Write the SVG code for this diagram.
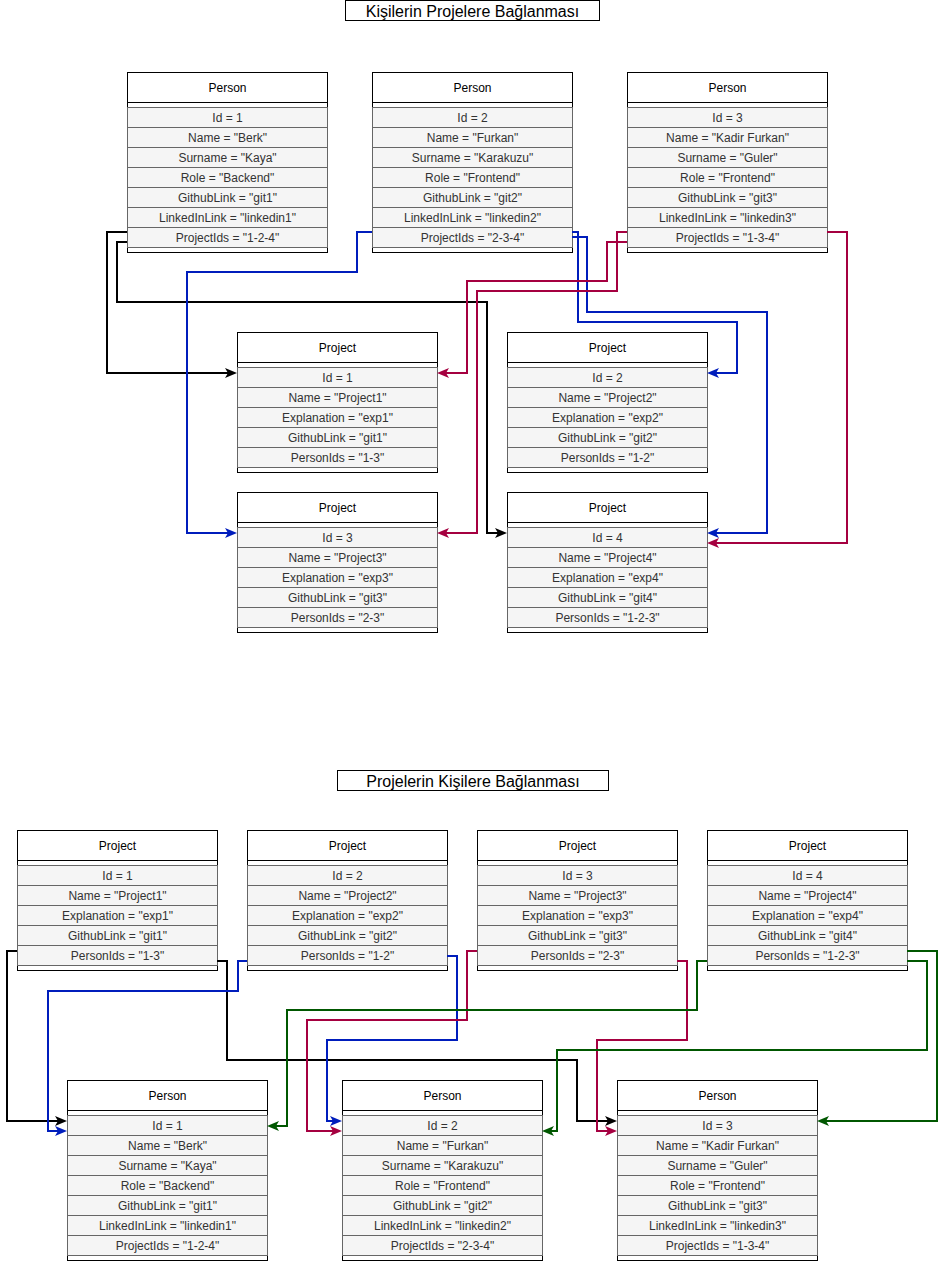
<svg xmlns="http://www.w3.org/2000/svg" xmlns:xlink="http://www.w3.org/1999/xlink" width="947" height="1261" viewBox="0 0 947 1261">
<style>
.box{fill:#ffffff;stroke:#000000;stroke-width:1}
.sep{stroke:#000000;stroke-width:1}
.row{fill:#f5f5f5;stroke:#666666;stroke-width:1}
.hdr{font-family:"Liberation Sans",Arial,Helvetica,sans-serif;font-size:12px;fill:#000000;text-anchor:middle;dominant-baseline:central}
.fld{font-family:"Liberation Sans",Arial,Helvetica,sans-serif;font-size:12px;fill:#333333;text-anchor:middle;dominant-baseline:central}
.ttl{font-family:"Liberation Sans",Arial,Helvetica,sans-serif;font-size:16px;fill:#000000;text-anchor:middle;dominant-baseline:central}
.c{fill:none;stroke-width:2;stroke-linejoin:miter}
.k{stroke:#000000;marker-end:url(#ah-k)}
.b{stroke:#001DBC;marker-end:url(#ah-b)}
.r{stroke:#A50040;marker-end:url(#ah-r)}
.g{stroke:#005700;marker-end:url(#ah-g)}
</style>
<defs>
<marker id="ah-k" viewBox="0 0 12 10" refX="8" refY="5" markerWidth="12" markerHeight="10" markerUnits="userSpaceOnUse" orient="auto"><path d="M0,0 L12,5 L0,10 L3,5 Z" fill="#000000"/></marker>
<marker id="ah-b" viewBox="0 0 12 10" refX="8" refY="5" markerWidth="12" markerHeight="10" markerUnits="userSpaceOnUse" orient="auto"><path d="M0,0 L12,5 L0,10 L3,5 Z" fill="#001DBC"/></marker>
<marker id="ah-r" viewBox="0 0 12 10" refX="8" refY="5" markerWidth="12" markerHeight="10" markerUnits="userSpaceOnUse" orient="auto"><path d="M0,0 L12,5 L0,10 L3,5 Z" fill="#A50040"/></marker>
<marker id="ah-g" viewBox="0 0 12 10" refX="8" refY="5" markerWidth="12" markerHeight="10" markerUnits="userSpaceOnUse" orient="auto"><path d="M0,0 L12,5 L0,10 L3,5 Z" fill="#005700"/></marker>
<g id="personFrame">
<rect class="box" x="0.5" y="0.5" width="200" height="180"/>
<line class="sep" x1="0.5" y1="30.5" x2="200.5" y2="30.5"/>
<rect class="row" x="0.5" y="35.5" width="200" height="20"/>
<rect class="row" x="0.5" y="55.5" width="200" height="20"/>
<rect class="row" x="0.5" y="75.5" width="200" height="20"/>
<rect class="row" x="0.5" y="95.5" width="200" height="20"/>
<rect class="row" x="0.5" y="115.5" width="200" height="20"/>
<rect class="row" x="0.5" y="135.5" width="200" height="20"/>
<rect class="row" x="0.5" y="155.5" width="200" height="20"/>
</g>
<g id="projectFrame">
<rect class="box" x="0.5" y="0.5" width="200" height="140"/>
<line class="sep" x1="0.5" y1="30.5" x2="200.5" y2="30.5"/>
<rect class="row" x="0.5" y="35.5" width="200" height="20"/>
<rect class="row" x="0.5" y="55.5" width="200" height="20"/>
<rect class="row" x="0.5" y="75.5" width="200" height="20"/>
<rect class="row" x="0.5" y="95.5" width="200" height="20"/>
<rect class="row" x="0.5" y="115.5" width="200" height="20"/>
</g>
</defs>
<rect x="0" y="0" width="947" height="1261" fill="#ffffff"/>

<g id="title-top">
<rect class="box" x="345.5" y="0.5" width="254" height="20"/>
<text class="ttl" x="472.5" y="11.5">Kişilerin Projelere Bağlanması</text>
</g>

<g id="top-person-1">
<use xlink:href="#personFrame" href="#personFrame" x="127" y="72"/>
<text class="hdr" x="227.5" y="87.5">Person</text>
<text class="fld" x="227.5" y="117.5">Id = 1</text>
<text class="fld" x="227.5" y="137.5">Name = "Berk"</text>
<text class="fld" x="227.5" y="157.5">Surname = "Kaya"</text>
<text class="fld" x="227.5" y="177.5">Role = "Backend"</text>
<text class="fld" x="227.5" y="197.5">GithubLink = "git1"</text>
<text class="fld" x="227.5" y="217.5">LinkedInLink = "linkedin1"</text>
<text class="fld" x="227.5" y="237.5">ProjectIds = "1-2-4"</text>
</g>
<g id="top-person-2">
<use xlink:href="#personFrame" href="#personFrame" x="372" y="72"/>
<text class="hdr" x="472.5" y="87.5">Person</text>
<text class="fld" x="472.5" y="117.5">Id = 2</text>
<text class="fld" x="472.5" y="137.5">Name = "Furkan"</text>
<text class="fld" x="472.5" y="157.5">Surname = "Karakuzu"</text>
<text class="fld" x="472.5" y="177.5">Role = "Frontend"</text>
<text class="fld" x="472.5" y="197.5">GithubLink = "git2"</text>
<text class="fld" x="472.5" y="217.5">LinkedInLink = "linkedin2"</text>
<text class="fld" x="472.5" y="237.5">ProjectIds = "2-3-4"</text>
</g>
<g id="top-person-3">
<use xlink:href="#personFrame" href="#personFrame" x="627" y="72"/>
<text class="hdr" x="727.5" y="87.5">Person</text>
<text class="fld" x="727.5" y="117.5">Id = 3</text>
<text class="fld" x="727.5" y="137.5">Name = "Kadir Furkan"</text>
<text class="fld" x="727.5" y="157.5">Surname = "Guler"</text>
<text class="fld" x="727.5" y="177.5">Role = "Frontend"</text>
<text class="fld" x="727.5" y="197.5">GithubLink = "git3"</text>
<text class="fld" x="727.5" y="217.5">LinkedInLink = "linkedin3"</text>
<text class="fld" x="727.5" y="237.5">ProjectIds = "1-3-4"</text>
</g>

<g id="top-project-1">
<use xlink:href="#projectFrame" href="#projectFrame" x="237" y="332"/>
<text class="hdr" x="337.5" y="347.5">Project</text>
<text class="fld" x="337.5" y="377.5">Id = 1</text>
<text class="fld" x="337.5" y="397.5">Name = "Project1"</text>
<text class="fld" x="337.5" y="417.5">Explanation = "exp1"</text>
<text class="fld" x="337.5" y="437.5">GithubLink = "git1"</text>
<text class="fld" x="337.5" y="457.5">PersonIds = "1-3"</text>
</g>
<g id="top-project-2">
<use xlink:href="#projectFrame" href="#projectFrame" x="507" y="332"/>
<text class="hdr" x="607.5" y="347.5">Project</text>
<text class="fld" x="607.5" y="377.5">Id = 2</text>
<text class="fld" x="607.5" y="397.5">Name = "Project2"</text>
<text class="fld" x="607.5" y="417.5">Explanation = "exp2"</text>
<text class="fld" x="607.5" y="437.5">GithubLink = "git2"</text>
<text class="fld" x="607.5" y="457.5">PersonIds = "1-2"</text>
</g>
<g id="top-project-3">
<use xlink:href="#projectFrame" href="#projectFrame" x="237" y="492"/>
<text class="hdr" x="337.5" y="507.5">Project</text>
<text class="fld" x="337.5" y="537.5">Id = 3</text>
<text class="fld" x="337.5" y="557.5">Name = "Project3"</text>
<text class="fld" x="337.5" y="577.5">Explanation = "exp3"</text>
<text class="fld" x="337.5" y="597.5">GithubLink = "git3"</text>
<text class="fld" x="337.5" y="617.5">PersonIds = "2-3"</text>
</g>
<g id="top-project-4">
<use xlink:href="#projectFrame" href="#projectFrame" x="507" y="492"/>
<text class="hdr" x="607.5" y="507.5">Project</text>
<text class="fld" x="607.5" y="537.5">Id = 4</text>
<text class="fld" x="607.5" y="557.5">Name = "Project4"</text>
<text class="fld" x="607.5" y="577.5">Explanation = "exp4"</text>
<text class="fld" x="607.5" y="597.5">GithubLink = "git4"</text>
<text class="fld" x="607.5" y="617.5">PersonIds = "1-2-3"</text>
</g>

<g id="title-bottom">
<rect class="box" x="337.5" y="770.5" width="271" height="20"/>
<text class="ttl" x="473" y="781">Projelerin Kişilere Bağlanması</text>
</g>

<g id="bottom-project-1">
<use xlink:href="#projectFrame" href="#projectFrame" x="17" y="830"/>
<text class="hdr" x="117.5" y="845.5">Project</text>
<text class="fld" x="117.5" y="875.5">Id = 1</text>
<text class="fld" x="117.5" y="895.5">Name = "Project1"</text>
<text class="fld" x="117.5" y="915.5">Explanation = "exp1"</text>
<text class="fld" x="117.5" y="935.5">GithubLink = "git1"</text>
<text class="fld" x="117.5" y="955.5">PersonIds = "1-3"</text>
</g>
<g id="bottom-project-2">
<use xlink:href="#projectFrame" href="#projectFrame" x="247" y="830"/>
<text class="hdr" x="347.5" y="845.5">Project</text>
<text class="fld" x="347.5" y="875.5">Id = 2</text>
<text class="fld" x="347.5" y="895.5">Name = "Project2"</text>
<text class="fld" x="347.5" y="915.5">Explanation = "exp2"</text>
<text class="fld" x="347.5" y="935.5">GithubLink = "git2"</text>
<text class="fld" x="347.5" y="955.5">PersonIds = "1-2"</text>
</g>
<g id="bottom-project-3">
<use xlink:href="#projectFrame" href="#projectFrame" x="477" y="830"/>
<text class="hdr" x="577.5" y="845.5">Project</text>
<text class="fld" x="577.5" y="875.5">Id = 3</text>
<text class="fld" x="577.5" y="895.5">Name = "Project3"</text>
<text class="fld" x="577.5" y="915.5">Explanation = "exp3"</text>
<text class="fld" x="577.5" y="935.5">GithubLink = "git3"</text>
<text class="fld" x="577.5" y="955.5">PersonIds = "2-3"</text>
</g>
<g id="bottom-project-4">
<use xlink:href="#projectFrame" href="#projectFrame" x="707" y="830"/>
<text class="hdr" x="807.5" y="845.5">Project</text>
<text class="fld" x="807.5" y="875.5">Id = 4</text>
<text class="fld" x="807.5" y="895.5">Name = "Project4"</text>
<text class="fld" x="807.5" y="915.5">Explanation = "exp4"</text>
<text class="fld" x="807.5" y="935.5">GithubLink = "git4"</text>
<text class="fld" x="807.5" y="955.5">PersonIds = "1-2-3"</text>
</g>

<g id="bottom-person-1">
<use xlink:href="#personFrame" href="#personFrame" x="67" y="1080"/>
<text class="hdr" x="167.5" y="1095.5">Person</text>
<text class="fld" x="167.5" y="1125.5">Id = 1</text>
<text class="fld" x="167.5" y="1145.5">Name = "Berk"</text>
<text class="fld" x="167.5" y="1165.5">Surname = "Kaya"</text>
<text class="fld" x="167.5" y="1185.5">Role = "Backend"</text>
<text class="fld" x="167.5" y="1205.5">GithubLink = "git1"</text>
<text class="fld" x="167.5" y="1225.5">LinkedInLink = "linkedin1"</text>
<text class="fld" x="167.5" y="1245.5">ProjectIds = "1-2-4"</text>
</g>
<g id="bottom-person-2">
<use xlink:href="#personFrame" href="#personFrame" x="342" y="1080"/>
<text class="hdr" x="442.5" y="1095.5">Person</text>
<text class="fld" x="442.5" y="1125.5">Id = 2</text>
<text class="fld" x="442.5" y="1145.5">Name = "Furkan"</text>
<text class="fld" x="442.5" y="1165.5">Surname = "Karakuzu"</text>
<text class="fld" x="442.5" y="1185.5">Role = "Frontend"</text>
<text class="fld" x="442.5" y="1205.5">GithubLink = "git2"</text>
<text class="fld" x="442.5" y="1225.5">LinkedInLink = "linkedin2"</text>
<text class="fld" x="442.5" y="1245.5">ProjectIds = "2-3-4"</text>
</g>
<g id="bottom-person-3">
<use xlink:href="#personFrame" href="#personFrame" x="617" y="1080"/>
<text class="hdr" x="717.5" y="1095.5">Person</text>
<text class="fld" x="717.5" y="1125.5">Id = 3</text>
<text class="fld" x="717.5" y="1145.5">Name = "Kadir Furkan"</text>
<text class="fld" x="717.5" y="1165.5">Surname = "Guler"</text>
<text class="fld" x="717.5" y="1185.5">Role = "Frontend"</text>
<text class="fld" x="717.5" y="1205.5">GithubLink = "git3"</text>
<text class="fld" x="717.5" y="1225.5">LinkedInLink = "linkedin3"</text>
<text class="fld" x="717.5" y="1245.5">ProjectIds = "1-3-4"</text>
</g>

<g id="connectors">
<path class="c k" d="M127,232 H107 V373 H233"/>
<path class="c k" d="M127,242 H117 V302 H487 V533 H503"/>
<path class="c b" d="M372,232 H357 V272 H187 V533 H233"/>
<path class="c b" d="M572,232 H578 V322 H737 V373 H711"/>
<path class="c b" d="M572,237 H587 V312 H767 V533 H711"/>
<path class="c r" d="M627,232 H617 V291 H477 V533 H441"/>
<path class="c r" d="M627,242 H607 V281 H467 V373 H441"/>
<path class="c r" d="M827,232 H847 V543 H711"/>

<path class="c k" d="M17,951 H7 V1121 H63"/>
<path class="c k" d="M217,961 H227 V1060 H577 V1121 H613"/>
<path class="c b" d="M247,961 H238 V991 H48 V1131 H63"/>
<path class="c b" d="M447,956 H457 V1040 H327 V1121 H338"/>
<path class="c r" d="M477,951 H467 V1020 H307 V1131 H338"/>
<path class="c r" d="M677,961 H687 V1040 H597 V1131 H613"/>
<path class="c g" d="M707,961 H697 V1010 H287 V1126 H271"/>
<path class="c g" d="M907,961 H927 V1050 H557 V1131 H546"/>
<path class="c g" d="M907,951 H937 V1121 H821"/>
</g>
</svg>
